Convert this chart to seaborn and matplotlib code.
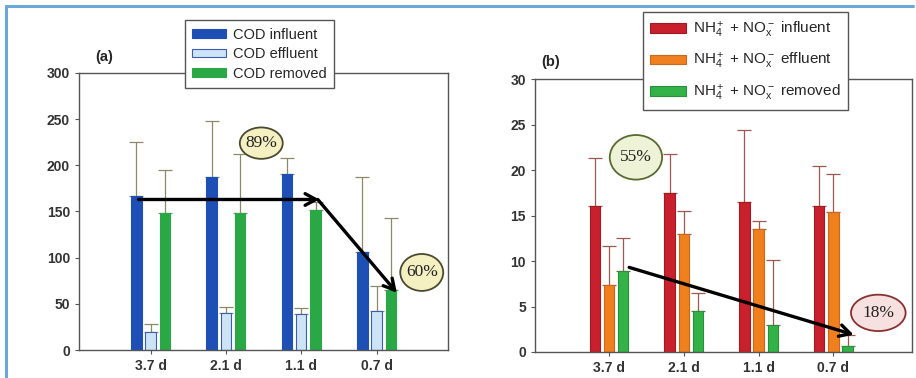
import numpy as np
import pandas as pd
import matplotlib
matplotlib.use("Agg")
import matplotlib.pyplot as plt
from matplotlib.patches import Ellipse
from matplotlib.lines import Line2D
import seaborn as sns

# ---------------- data ----------------
hrt = ["3.7 d", "2.1 d", "1.1 d", "0.7 d"]

cod_labels = ["COD influent", "COD effluent", "COD removed"]
cod_influent = [167, 187, 191, 106]
cod_effluent = [19, 40, 39, 42]
cod_removed = [148, 148, 152, 65]
cod_influent_top = [225, 248, 208, 187]
cod_effluent_top = [28, 47, 46, 69]
cod_removed_top = [195, 212, 160, 143]

n_labels = [r"NH$_4^+$ + NO$_x^-$ influent",
            r"NH$_4^+$ + NO$_x^-$ effluent",
            r"NH$_4^+$ + NO$_x^-$ removed"]
n_influent = [16.1, 17.5, 16.5, 16.0]
n_effluent = [7.4, 13.0, 13.5, 15.4]
n_removed = [8.9, 4.5, 3.0, 0.7]
n_influent_top = [21.3, 21.8, 24.4, 20.4]
n_effluent_top = [11.6, 15.5, 14.4, 19.6]
n_removed_top = [12.5, 6.5, 10.1, 1.9]

cod_ticks = [0, 50, 100, 150, 200, 250, 300]
n_ticks = [0, 5, 10, 15, 20, 25, 30]

# ---------------- style ----------------
sns.set_style("ticks")
plt.rcParams["font.family"] = ["Liberation Sans", "DejaVu Sans"]
plt.rcParams["mathtext.fontset"] = "custom"
plt.rcParams["mathtext.rm"] = "Liberation Sans"
plt.rcParams["mathtext.it"] = "Liberation Sans"
plt.rcParams["mathtext.default"] = "regular"

fig = plt.figure(figsize=(9.16, 3.78), dpi=100)
fig.patch.set_facecolor("white")
ax_a = fig.add_axes([0.0862, 0.074, 0.403, 0.733])
ax_b = fig.add_axes([0.584, 0.0688, 0.4116, 0.722])


def long_df(labels, series):
    rows = []
    for lab, vals in zip(labels, series):
        for h, v in zip(hrt, vals):
            rows.append({"hrt": h, "series": lab, "value": v})
    return pd.DataFrame(rows)


def draw_panel(ax, labels, series, tops, colors, edges, ecolor, ymax, ticks):
    df = long_df(labels, series)
    sns.barplot(data=df, x="hrt", y="value", hue="series", hue_order=labels,
                order=hrt, palette=colors, width=0.57, gap=0.26,
                errorbar=None, ax=ax, legend=False, saturation=1)
    for cont, ec, vals, tp in zip(ax.containers, edges, series, tops):
        xs = []
        for bar in cont:
            bar.set_edgecolor(ec)
            bar.set_linewidth(0.8)
            bar.set_zorder(2)
            xs.append(bar.get_x() + bar.get_width() / 2)
        vals = np.array(vals, float)
        up = np.array(tp, float) - vals
        ax.errorbar(xs, vals, yerr=[np.zeros_like(up), up], fmt="none",
                    ecolor=ecolor, elinewidth=0.9, capsize=5, capthick=0.9,
                    zorder=1.5)
    ax.set_ylim(0, ymax)
    ax.set_yticks(ticks)
    ax.set_xlabel("")
    ax.set_ylabel("")
    for s in ax.spines.values():
        s.set_visible(True)
        s.set_color("#555555")
        s.set_linewidth(1.0)
    ax.tick_params(axis="both", colors="#555555", labelcolor="#333333",
                   labelsize=10, length=3, width=0.8)
    for lab in ax.get_xticklabels() + ax.get_yticklabels():
        lab.set_fontweight("bold")
    ax.set_facecolor("white")


# panel (a)
draw_panel(ax_a, cod_labels, [cod_influent, cod_effluent, cod_removed],
           [cod_influent_top, cod_effluent_top, cod_removed_top],
           ["#1d4fb5", "#cde3f6", "#2aa845"],
           ["#1d4fb5", "#3a5fb0", "#2aa845"],
           "#8a8a68", 300, cod_ticks)
ax_a.set_xlim(-0.95, 3.95)

# panel (b)
draw_panel(ax_b, n_labels, [n_influent, n_effluent, n_removed],
           [n_influent_top, n_effluent_top, n_removed_top],
           ["#c8202c", "#f07f1e", "#32b247"],
           ["#a01a22", "#c86818", "#28903a"],
           "#9a5a50", 30, n_ticks)
ax_b.set_xlim(-0.99, 4.05)

# legends
def make_legend(ax, labels, colors, edges, anchor, spacing, fs):
    handles = [plt.Rectangle((0, 0), 1, 1, facecolor=c, edgecolor=e, lw=0.8)
               for c, e in zip(colors, edges)]
    leg = ax.legend(handles, labels, loc="upper left", bbox_to_anchor=anchor,
                    frameon=True, fancybox=False, fontsize=fs,
                    handlelength=2.3, handleheight=0.55, handletextpad=0.5,
                    labelspacing=spacing, borderpad=0.5, borderaxespad=0)
    leg.get_frame().set_edgecolor("#555555")
    leg.get_frame().set_linewidth(1.0)
    leg.get_frame().set_facecolor("white")
    leg.get_frame().set_alpha(1)
    leg.set_zorder(10)
    return leg

make_legend(ax_a, cod_labels, ["#1d4fb5", "#cde3f6", "#2aa845"],
            ["#1d4fb5", "#3a5fb0", "#2aa845"], (0.287, 1.19), 0.38, 10.5)
make_legend(ax_b, n_labels, ["#c8202c", "#f07f1e", "#32b247"],
            ["#a01a22", "#c86818", "#28903a"], (0.286, 1.245), 0.75, 11)

# panel labels
fig.text(95 / 916, 1 - 57 / 378, "(a)", fontsize=10.5, fontweight="bold",
         ha="left", va="center")
fig.text(541 / 916, 1 - 62 / 378, "(b)", fontsize=10.5, fontweight="bold",
         ha="left", va="center")

# arrows
arrow_kw = dict(arrowstyle="->, head_length=0.55, head_width=0.3", lw=2.4,
                color="black", mutation_scale=14, shrinkA=0, shrinkB=0)
ax_a.annotate("", xy=(2.24, 163), xytext=(-0.16, 163), arrowprops=arrow_kw,
              zorder=6)
ax_a.annotate("", xy=(3.27, 62), xytext=(2.22, 163), arrowprops=arrow_kw,
              zorder=6)
ax_b.annotate("", xy=(3.27, 1.9), xytext=(0.27, 9.3), arrowprops=arrow_kw,
              zorder=6)

# ellipse badges
def badge(ax, x, y, w, h, text, fc, ec):
    e = Ellipse((x, y), w, h, facecolor=fc, edgecolor=ec, lw=1.3,
                zorder=7, clip_on=False)
    ax.add_patch(e)
    ax.text(x, y, text, ha="center", va="center", fontsize=12.5,
            family=["Liberation Serif", "DejaVu Serif"], color="#222222",
            zorder=8)

badge(ax_a, 1.47, 224, 0.57, 34, "89%", "#f4f0c2", "#4a4a30")
badge(ax_a, 3.6, 84, 0.57, 40, "60%", "#f4f0c2", "#4a4a30")
badge(ax_b, 0.36, 21.4, 0.70, 4.9, "55%", "#eef2d6", "#5a6a30")
badge(ax_b, 3.6, 4.3, 0.73, 4.0, "18%", "#f7e0e0", "#8a3030")

# light blue frame
fig.add_artist(Line2D([6 / 916, 913 / 916], [1 - 6 / 378, 1 - 6 / 378],
                      color="#6aa8d8", lw=2.2, transform=fig.transFigure))
fig.add_artist(Line2D([6 / 916, 6 / 916], [0, 1 - 6 / 378],
                      color="#6aa8d8", lw=2.2, transform=fig.transFigure))

fig.savefig("out.png", dpi=100, facecolor="white")
